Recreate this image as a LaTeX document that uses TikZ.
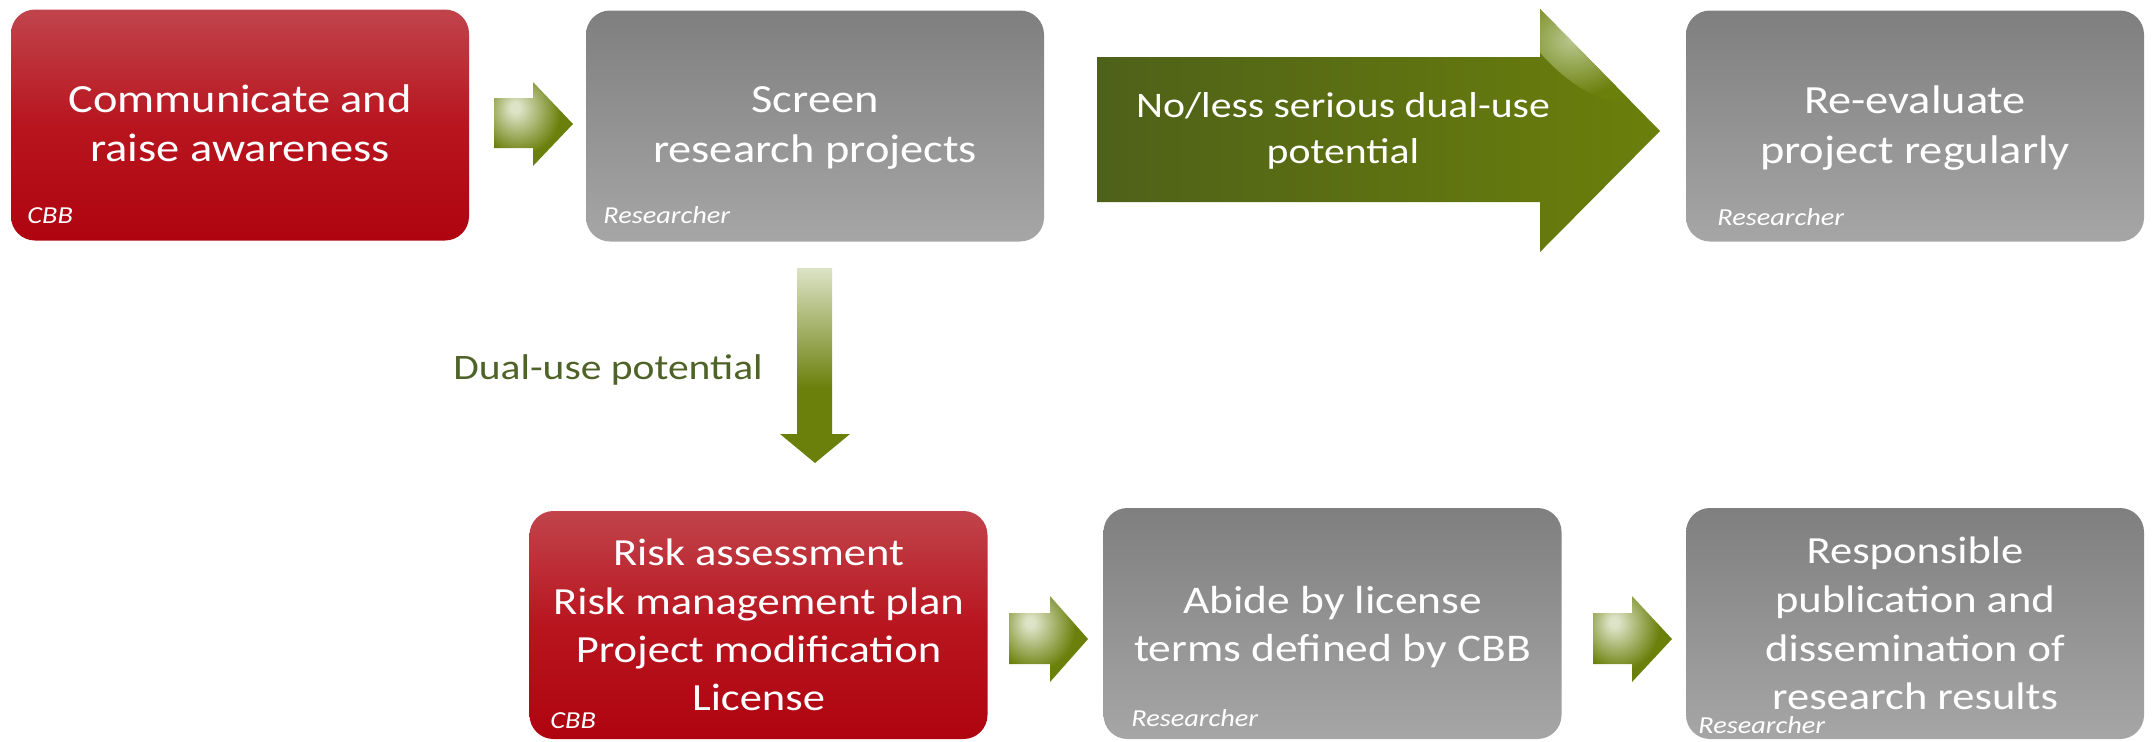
\documentclass[tikz,border=0pt]{standalone}
\usepackage{fontspec}
\setmainfont[FakeStretch=1.16]{Carlito}
\definecolor{redtop}{HTML}{C1444B}
\definecolor{redmid}{HTML}{B8151F}
\definecolor{redbot}{HTML}{AF0410}
\definecolor{graytop}{HTML}{7F7F7F}
\definecolor{graybot}{HTML}{A6A6A6}
\definecolor{olive}{HTML}{6B7F0B}
\definecolor{olivedk}{HTML}{4E6119}
\definecolor{olivelt}{HTML}{DCE3C6}
\definecolor{olivehl}{HTML}{B9C78E}
\definecolor{labelgreen}{HTML}{4F6228}
\pgfdeclareradialshading{smallarrowshade}{\pgfpoint{-12bp}{10bp}}{color(0bp)=(olivelt); color(3bp)=(olivelt); color(26bp)=(olive); color(100bp)=(olive)}
\pgfdeclareverticalshading{downarrowshade}{100bp}{color(0bp)=(olive); color(44bp)=(olive); color(75bp)=(olivelt); color(100bp)=(olivelt)}
\tikzset{
  box/.style={rectangle, rounded corners=12pt, minimum width=229pt, minimum height=115.5pt, inner sep=0pt, outer sep=0pt},
  redbox/.style={box, top color=redtop, bottom color=redbot, middle color=redmid},
  graybox/.style={box, top color=graytop, bottom color=graybot},
  maintext/.style={text=white, align=center, inner sep=0pt, font=\fontsize{20}{24.5}\selectfont},
  role/.style={text=white, inner sep=0pt, anchor=base west, font=\fontsize{12.2}{14}\selectfont\itshape},
  smallarrow/.style={shading=smallarrowshade},
}
\begin{document}
\begin{tikzpicture}[x=0.5pt,y=-0.5pt]
\useasboundingbox (0,0) rectangle (2155,741);
% boxes
\node[redbox] (b1) at (240,125) {};
\node[graybox] (b2) at (815,126) {};
\node[graybox] (b3) at (1915,126) {};
\node[redbox, minimum height=114pt] (b4) at (758.5,625) {};
\node[graybox] (b5) at (1332.5,623.5) {};
\node[graybox] (b6) at (1915,623.5) {};
% block arrows
\shade[smallarrow] (494,98) -- (533,98) -- (533,82) -- (573,124) -- (533,166) -- (533,148) -- (494,148) -- cycle;
\shade[smallarrow] (1009,613) -- (1050,613) -- (1050,596) -- (1088,639) -- (1050,682) -- (1050,664) -- (1009,664) -- cycle;
\shade[smallarrow] (1593,613) -- (1632,613) -- (1632,596) -- (1672,639) -- (1632,682) -- (1632,664) -- (1593,664) -- cycle;
\shade[left color=olivedk, right color=olive] (1097,57) -- (1540,57) -- (1540,9) -- (1660,131) -- (1540,252) -- (1540,202) -- (1097,202) -- cycle;
\begin{scope}
  \clip (1097,57) -- (1540,57) -- (1540,9) -- (1660,131) -- (1540,252) -- (1540,202) -- (1097,202) -- cycle;
  \shade[inner color=olivehl, outer color=olive, shift={(1572,40)}, rotate=-45] (0,0) ellipse (80 and 32);
\end{scope}
\shade[shading=downarrowshade] (797,268) -- (832,268) -- (832,434) -- (850,434) -- (815,463) -- (780,434) -- (797,434) -- cycle;
% texts
\node[maintext] (t1) at (240,126.7) {\strut Communicate and\\\strut raise awareness};
\node[maintext, font=\fontsize{20}{25}\selectfont] (t2) at (815,127) {\strut Screen\\\strut research projects};
\node[maintext, font=\fontsize{20}{25}\selectfont] (t3) at (1915,128) {\strut Re-evaluate\\\strut project regularly};
\node[maintext, font=\fontsize{18}{23}\selectfont] (t4) at (1343,130.8) {\strut No/less serious dual-use\\\strut potential};
\node[maintext, font=\fontsize{19.2}{24.15}\selectfont] (t5) at (758.5,628.5) {\strut Risk assessment\\\strut Risk management plan\\\strut Project modification\\\strut License};
\node[maintext, font=\fontsize{19.6}{24}\selectfont] (t6) at (1332.5,627.5) {\strut Abide by license\\\strut terms defined by CBB};
\node[maintext, font=\fontsize{19.2}{24.35}\selectfont] (t7) at (1915,627) {\strut Responsible\\\strut publication and\\\strut dissemination of\\\strut research results};
\node[text=labelgreen, anchor=base, inner sep=0pt, font=\fontsize{17.9}{21}\selectfont] (lbl) at (608,379) {Dual-use potential};
% role labels
\node[role] (r1) at (27,223) {CBB};
\node[role] (r2) at (603,223) {Researcher};
\node[role] (r3) at (1717,225) {Researcher};
\node[role] (r4) at (550,728) {CBB};
\node[role] (r5) at (1131,726) {Researcher};
\node[role] (r6) at (1698,733) {Researcher};
\end{tikzpicture}
\end{document}
